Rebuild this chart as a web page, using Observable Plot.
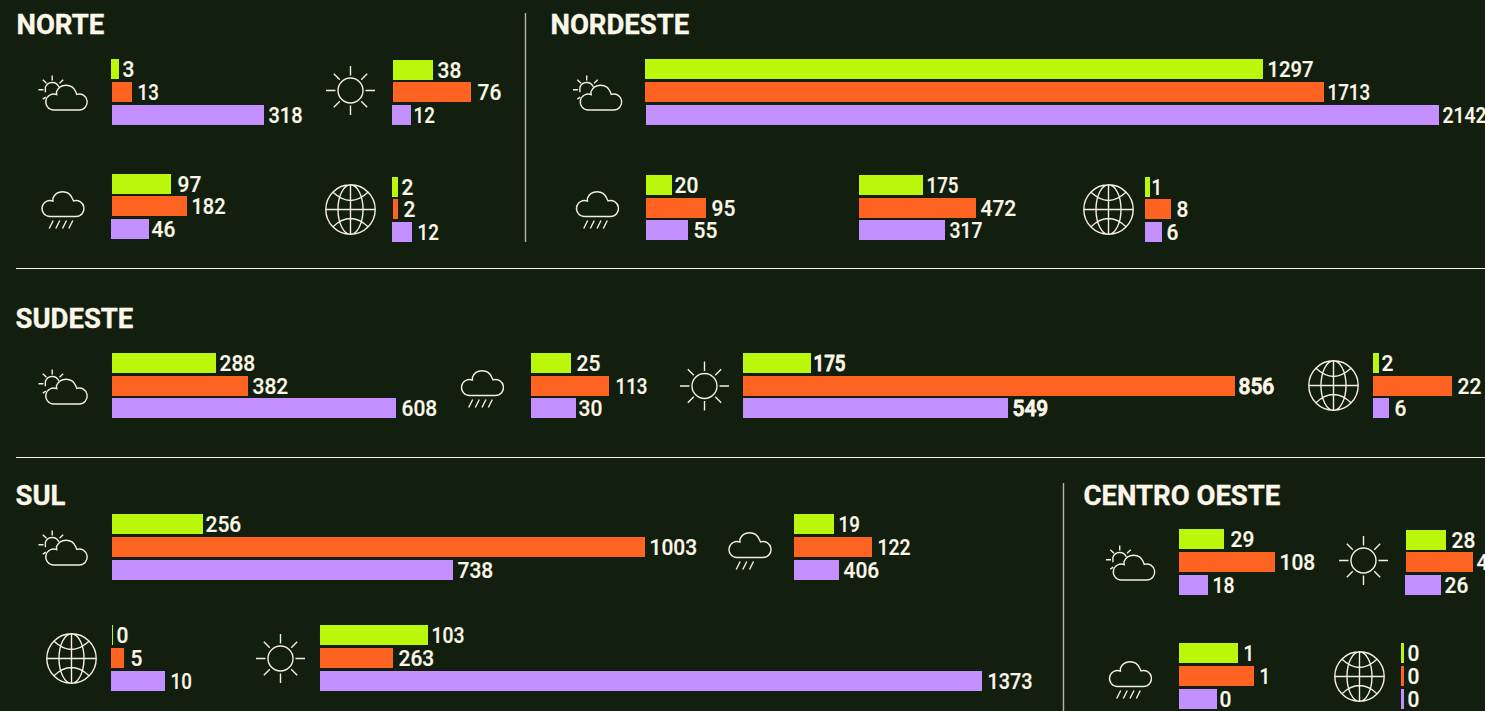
<!DOCTYPE html>
<html><head><meta charset="utf-8">
<style>html,body{margin:0;padding:0;background:#121f0f;overflow:hidden}</style>
<script src="https://cdn.jsdelivr.net/npm/d3@7"></script>
<script src="https://cdn.jsdelivr.net/npm/@observablehq/plot@0.6"></script>
</head><body>
<div id="chart"></div>
<script>
// ---- Data: printed values and bar lengths (three series per group)
const seriesNames = ["série A", "série B", "série C"];
const seriesColors = ["#baf70a", "#fe6321", "#c48fff"];
const regions = ["NORTE", "NORDESTE", "SUDESTE", "SUL", "CENTRO OESTE"];

const norteCloud = [3, 13, 318],      norteCloudLen = [8, 20, 152];
const norteSun = [38, 76, 12],        norteSunLen = [40, 78, 19];
const norteRain = [97, 182, 46],      norteRainLen = [59, 75, 38];
const norteGlobe = [2, 2, 12],        norteGlobeLen = [6, 5, 20];

const nordesteCloud = [1297, 1713, 2142], nordesteCloudLen = [618, 679, 793];
const nordesteRain = [20, 95, 55],        nordesteRainLen = [26, 60, 42];
const nordesteSun = [175, 472, 317],      nordesteSunLen = [64, 117, 86];
const nordesteGlobe = [1, 8, 6],          nordesteGlobeLen = [5, 26, 17];

const sudesteCloud = [288, 382, 608], sudesteCloudLen = [104, 136, 284];
const sudesteRain = [25, 113, 30],    sudesteRainLen = [40, 78, 45];
const sudesteSun = [175, 856, 549],   sudesteSunLen = [68, 492, 265];
const sudesteGlobe = [2, 22, 6],      sudesteGlobeLen = [6, 79, 16];

const sulCloud = [256, 1003, 738],    sulCloudLen = [91, 533, 341];
const sulRain = [19, 122, 406],       sulRainLen = [40, 78, 45];
const sulGlobe = [0, 5, 10],          sulGlobeLen = [1, 13, 54];
const sulSun = [103, 263, 1373],      sulSunLen = [108, 73, 662];

const centroCloud = [29, 108, 18],    centroCloudLen = [45, 96, 29];
const centroSun = [28, 44, 26],       centroSunLen = [40, 67, 36];
const centroRain = [1, 1, 0],         centroRainLen = [59, 75, 38];
const centroGlobe = [0, 0, 0],        centroGlobeLen = [3, 3, 3];

// ---- Layout (page positions, separate from the values). t/e: label start and end
const bg = "#121f0f", cream = "#fbf6e8", iconInk = "#f5efdc";
const labelFont = "Roboto", headFont = "Roboto";
const layout = [
  {icon:"cloud", ix:62.5,iy:92.5,  v:norteCloud, l:norteCloudLen, x:[111,112,112], y:[59,82,105], t:[122,137,268], e:[134,157,301]},
  {icon:"sun",   ix:350, iy:90,    v:norteSun, l:norteSunLen, x:[393,393,392], y:[60,82,105], t:[437,477,413], e:[462,501,433]},
  {icon:"rain",  ix:62.5,iy:209,   v:norteRain, l:norteRainLen, x:[112,112,111], y:[174,196,219], t:[177,191,151], e:[202,224,176]},
  {icon:"globe", ix:350, iy:209,   v:norteGlobe, l:norteGlobeLen, x:[392,393,392], y:[177,199,222], t:[401,403,417], e:[412,414,436]},

  {icon:"cloud", ix:597, iy:92.5,  v:nordesteCloud, l:nordesteCloudLen, x:[645,645,646], y:[59,82,105], t:[1267,1327,1442], e:[1312,1367,1485]},
  {icon:"rain",  ix:597, iy:209,   v:nordesteRain, l:nordesteRainLen, x:[646,646,646], y:[175,198,220], t:[674,711,693], e:[699,736,717]},
  {icon:null,                      v:nordesteSun, l:nordesteSunLen, x:[859,859,859], y:[175,198,220], t:[926,980,949], e:[957,1015,981]},
  {icon:"globe", ix:1108,iy:209,   v:nordesteGlobe, l:nordesteGlobeLen, x:[1145,1145,1145], y:[177,199,222], t:[1151,1176,1166], e:[1157,1189,1178]},

  {icon:"cloud", ix:62.5,iy:386.5, v:sudesteCloud, l:sudesteCloudLen, x:[112,112,112], y:[353,376,398], t:[219,252,401], e:[255,289,440]},
  {icon:"rain",  ix:482, iy:388,   v:sudesteRain, l:sudesteRainLen, x:[531,531,531], y:[353,376,398], t:[576,615,578], e:[599,643,604]},
  {icon:"sun",   ix:704, iy:385.5, v:sudesteSun, l:sudesteSunLen, x:[743,743,743], y:[353,376,398], t:[813,1238,1012], e:[844,1276,1050], heavy:true},
  {icon:"globe", ix:1333,iy:385,   v:sudesteGlobe, l:sudesteGlobeLen, x:[1373,1373,1373], y:[353,376,398], t:[1381,1457,1394], e:[1393,1480,1406]},

  {icon:"cloud", ix:62.5,iy:547.5, v:sulCloud, l:sulCloudLen, x:[112,112,112], y:[514,537,560], t:[205,649,457], e:[241,696,494]},
  {icon:"rain3", ix:749.5,iy:550,  v:sulRain, l:sulRainLen, x:[794,794,794], y:[514,537,560], t:[838,877,843], e:[858,909,880]},
  {icon:"globe", ix:71,  iy:658,   v:sulGlobe, l:sulGlobeLen, x:[112,111,111], y:[625,648,671], t:[116,130,170], e:[128,143,190]},
  {icon:"sun",   ix:280, iy:658,   v:sulSun, l:sulSunLen, x:[320,320,320], y:[625,648,671], t:[431,398,987], e:[463,435,1031]},

  {icon:"cloud", ix:1130,iy:562.5, v:centroCloud, l:centroCloudLen, x:[1179,1179,1179], y:[529,552,575], t:[1230,1279,1212], e:[1254,1314,1233]},
  {icon:"sun",   ix:1363,iy:560,   v:centroSun, l:centroSunLen, x:[1406,1406,1405], y:[530,552,575], t:[1451,1476,1444], e:[1474,1500,1468]},
  {icon:"rain",  ix:1130,iy:679,   v:centroRain, l:centroRainLen, x:[1179,1179,1179], y:[643,666,689], t:[1243,1259,1219], e:[1252,1268,1231]},
  {icon:"globe", ix:1359,iy:676,   v:centroGlobe, l:centroGlobeLen, x:[1401,1401,1401], y:[643,666,689], t:[1407,1407,1407], e:[1420,1420,1420]}
];
const heads = [
  {t:regions[0], x:16, y:25}, {t:regions[1], x:550, y:25}, {t:regions[2], x:15, y:319},
  {t:regions[3], x:15, y:496}, {t:regions[4], x:1083, y:496}
];
const hRules = [{y:268, x1:16, x2:1485}, {y:457, x1:16, x2:1485}];
const vRules = [{x:525, y1:13, y2:242}, {x:1063, y1:483, y2:711}];

const BAR_H = 20;
const bars = layout.flatMap(g => g.v.map((val,i) => ({
  series: seriesNames[i], value: val, x1: g.x[i], x2: g.x[i] + g.l[i],
  y1: g.y[i], y2: g.y[i] + BAR_H, tx: g.t[i], ty: g.y[i] + BAR_H/2, heavy: !!g.heavy,
  tw: g.e[i] - g.t[i] + 1
})));
const icons = layout.filter(g => g.icon);

// ---- Icons as custom Plot symbols (drawn on a 25-radius grid, scaled by dot size)
const unit = (size) => Math.sqrt(size/Math.PI)/25;
function mk(fn){ return {draw(ctx,size){ const k=unit(size);
  const c={M:(x,y)=>ctx.moveTo(x*k,y*k),L:(x,y)=>ctx.lineTo(x*k,y*k),
    A:(x,y,r,a,b)=>ctx.arc(x*k,y*k,r*k,a,b,false),
    Q:(a,b,x,y)=>ctx.quadraticCurveTo(a*k,b*k,x*k,y*k),
    B:(a,b,c2,d,x,y)=>ctx.bezierCurveTo(a*k,b*k,c2*k,d*k,x*k,y*k)};
  fn(c);
}};}
const PI=Math.PI;
const seg=(c,a,b,d,e)=>{c.M(a,b);c.L(d,e);};
const cloudPath=(c,ox,oy,wide)=>{ // bottom baseline at oy
  const lx=ox+8, rx=ox+wide-8, mx=ox+wide*0.49, r2=10.4;
  c.M(lx,oy); c.A(lx,oy-8,8,PI/2,1.62*PI);
  c.A(mx,oy-14.4,r2,1.12*PI,1.88*PI);
  c.A(rx,oy-8,8,1.4*PI,2.5*PI);
  c.L(lx,oy);
};
const sunSym=mk(c=>{
  c.M(12.5,0);c.A(0,0,12.5,0,2*PI);
  seg(c,0,-24.5,0,-15);seg(c,0,15,0,24.5);seg(c,-24.5,0,-15,0);seg(c,15,0,24.5,0);
  seg(c,-16.7,-16.7,-10.7,-10.7);seg(c,16.7,-16.7,10.7,-10.7);seg(c,-16.7,16.7,-10.7,10.7);seg(c,16.7,16.7,10.7,10.7);
});
const cloudSym=mk(c=>{
  cloudPath(c,-17.2,17,41.4);
  const sx=-10.8,sy=-3.3;
  c.M(sx-6.8,sy+2.5);c.A(sx,sy,7.2,1.1*PI,1.87*PI);
  seg(c,sx,-17.5,sx,-12.5);seg(c,-24.5,sy,-19.5,sy);
  seg(c,-20.2,-13.2,-16.5,-9.8);seg(c,-3.5,-9.8,0.2,-13.2);seg(c,-20.2,6.2,-17.2,4.2);
});
const rainSym=mk(c=>{
  cloudPath(c,-21,7,42);
  for(const x of [-13.8,-7.2,-0.5,5.8]) seg(c,x,19,x+4,11);
});
const rain3Sym=mk(c=>{
  cloudPath(c,-21,7,42);
  for(const x of [-13.8,-7.2,-0.5]) seg(c,x,19,x+4,11);
});
const K=0.5523;
const globeSym=mk(c=>{
  const R=24.7,rx=12.5;
  c.M(R,0);c.A(0,0,R,0,2*PI);
  seg(c,0,-R,0,R);seg(c,-R,0,R,0);
  c.M(0,-R);c.B(rx*K,-R,rx,-R*K,rx,0);c.B(rx,R*K,rx*K,R,0,R);c.B(-rx*K,R,-rx,R*K,-rx,0);c.B(-rx,-R*K,-rx*K,-R,0,-R);
  c.M(-17.5,-17.2);c.Q(0,-1,17.5,-17.2);
  c.M(-17.5,17.2);c.Q(0,1,17.5,17.2);
});
const syms={sun:sunSym,cloud:cloudSym,rain:rainSym,rain3:rain3Sym,globe:globeSym};

const plot = Plot.plot({
  width:1485, height:711, margin:0,
  style:{background:bg, display:"block"},
  x:{domain:[0,1485], range:[0,1485], axis:null},
  y:{domain:[0,711], range:[0,711], axis:null},
  color:{domain:seriesNames, range:seriesColors},
  marks:[
    Plot.ruleY(hRules,{y:"y",x1:"x1",x2:"x2",stroke:cream,strokeWidth:1}),
    Plot.ruleX(vRules,{x:"x",y1:"y1",y2:"y2",stroke:cream,strokeWidth:1.4,strokeOpacity:0.7}),
    Plot.rect(bars,{x1:"x1",x2:"x2",y1:"y1",y2:"y2",fill:"series"}),
    Plot.text(bars,{x:"tx",y:"ty",text:d=>String(d.value),textAnchor:"start",lineAnchor:"middle",fill:cream,className:"lab",
      fontFamily:labelFont,fontSize:22,fontWeight:500,
      stroke:cream,strokeWidth:d=>d.heavy?0.9:0.2}),
    Plot.text(heads,{x:"x",y:"y",text:"t",textAnchor:"start",lineAnchor:"middle",fill:cream,
      fontFamily:headFont,fontSize:27.5,fontWeight:700,stroke:cream,strokeWidth:0.35}),
    ...Object.keys(syms).map(k=>Plot.dot(icons.filter(d=>d.icon===k),{x:"ix",y:"iy",r:25,symbol:syms[k],fill:"none",stroke:iconInk,strokeWidth:1.4}))
  ]
});
document.getElementById("chart").append(plot);
// condense each number label towards its width in the reference (its typeface is narrower than any installed one),
// keeping the squeeze in a narrow band so the digits stay alike
plot.querySelectorAll(".lab text").forEach((t,i)=>{
  const natural=t.getComputedTextLength();
  const w=Math.min(natural*0.95,Math.max(natural*0.85,bars[i].tw));
  t.setAttribute("textLength", w.toFixed(2));
  t.setAttribute("lengthAdjust","spacingAndGlyphs");
});
</script>
</body></html>
